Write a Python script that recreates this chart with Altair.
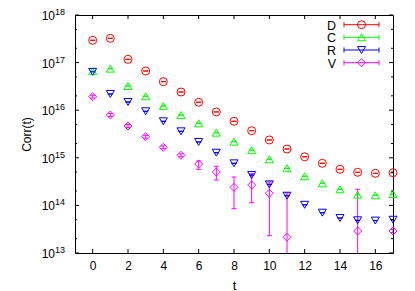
import altair as alt
import pandas as pd

# ---- data ----
t_all = list(range(18))
D_vals = [2.94e17, 3.24e17, 1.17e17, 6.66e16, 3.97e16, 2.41e16, 1.47e16, 9.2e15, 5.85e15,
          3.71e15, 2.37e15, 1.53e15, 1.05e15, 7.66e14, 5.73e14, 4.96e14, 4.72e14, 4.86e14]
C_vals = [6.6e16, 7.45e16, 3.22e16, 1.96e16, 1.23e16, 7.93e15, 5.31e15, 3.37e15, 2.18e15,
          1.44e15, 9.3e14, 6.02e14, 4.09e14, 2.91e14, 2.18e14, 1.68e14, 1.63e14, 1.73e14]
R_vals = [6.4e16, 2.19e16, 1.49e16, 9.5e15, 5.85e15, 3.6e15, 2.15e15, 1.28e15, 7.66e14,
          4.35e14, 2.77e14, 1.6e14, 1.03e14, 7.03e13, 5.44e13, 4.87e13, 4.8e13, 5.0e13]
V_t = [0, 1, 2, 3, 4, 5, 6, 7, 8, 9, 10, 11, 15, 17]
V_vals = [1.92e16, 7.93e15, 4.66e15, 2.77e15, 1.66e15, 1.13e15, 7.41e14, 5.03e14, 2.4e14,
          2.68e14, 1.8e14, 2.14e13, 2.9e13, 2.9e13]
V_lo = [1.8e16, 7.4e15, 4.35e15, 2.58e15, 1.55e15, 1.05e15, 5.73e14, 3.42e14, 8.53e13,
        1.14e14, 2.31e13, 1e12, 1e12, 2.7e13]
V_hi = [2.05e16, 8.5e15, 5.0e15, 2.97e15, 1.78e15, 1.21e15, 8.57e14, 6.63e14, 3.95e14,
        4.64e14, 3.1e14, 1.82e14, 2.18e14, 3.1e13]

series_names = ["D", "C", "R", "V"]
series_colors = ["#ff0000", "#00ff00", "#0000ff", "#ff00ff"]
series_shapes = ["circle", "triangle-up", "triangle-down", "diamond"]

x_tick_vals = [0, 2, 4, 6, 8, 10, 12, 14, 16]
y_exponents = [13, 14, 15, 16, 17, 18]

# ---- tables ----
rows = []
for name, vals in [("D", D_vals), ("C", C_vals), ("R", R_vals)]:
    for t, v in zip(t_all, vals):
        rows.append({"series": name, "t": t, "val": v, "lo": v, "hi": v})
for t, v, lo, hi in zip(V_t, V_vals, V_lo, V_hi):
    rows.append({"series": "V", "t": t, "val": v, "lo": lo, "hi": hi})
df = pd.DataFrame(rows)

W, H = 318, 238
FONT = "Liberation Sans"

xs = alt.Scale(domain=[-1, 17], nice=False, zero=False)
ys = alt.Scale(type="log", domain=[1e13, 1e18], nice=False)
color = alt.Color("series:N", scale=alt.Scale(domain=series_names, range=series_colors), legend=None)
shape = alt.Shape("series:N", scale=alt.Scale(domain=series_names, range=series_shapes), legend=None)

x_axis = alt.Axis(values=x_tick_vals, title="t", ticks=False, tickSize=0, domain=False, grid=False,
                  labelOverlap=False, labelPadding=7, labelFontSize=12, labelFont=FONT, labelColor="#000",
                  titleFont=FONT, titleFontSize=13, titleFontWeight="normal", titleColor="#000",
                  titleY=36, titleBaseline="alphabetic")
y_axis = alt.Axis(labels=False, ticks=False, tickSize=0, domain=False, grid=False, title="Corr(t)",
                  titleFont=FONT, titleFontSize=12, titleFontWeight="normal", titleColor="#000",
                  titleX=-49, titleY=H / 2, titleAngle=270, titleAlign="center", titleBaseline="middle")

base = alt.Chart(df)
err = base.mark_rule(strokeWidth=1, clip=True).encode(
    x=alt.X("t:Q", scale=xs, axis=x_axis),
    y=alt.Y("lo:Q", scale=ys, axis=y_axis),
    y2="hi:Q",
    color=color,
)
cap_lo = base.mark_tick(orient="horizontal", size=5, thickness=1, clip=True, opacity=1).encode(
    x=alt.X("t:Q", scale=xs, axis=x_axis), y=alt.Y("lo:Q", scale=ys, axis=y_axis), color=color)
cap_hi = base.mark_tick(orient="horizontal", size=5, thickness=1, clip=True, opacity=1).encode(
    x=alt.X("t:Q", scale=xs, axis=x_axis), y=alt.Y("hi:Q", scale=ys, axis=y_axis), color=color)
pts = base.mark_point(filled=False, size=64, strokeWidth=1, opacity=1).encode(
    x=alt.X("t:Q", scale=xs, axis=x_axis), y=alt.Y("val:Q", scale=ys, axis=y_axis), color=color, shape=shape)

layers = [err, cap_lo, cap_hi, pts]

# ---- inward ticks ----
xt = alt.Chart(pd.DataFrame({"t": x_tick_vals}))
layers.append(xt.mark_rule(color="#000", strokeWidth=1).encode(
    x=alt.X("t:Q", scale=xs, axis=x_axis), y=alt.value(H), y2=alt.value(H - 4)))
layers.append(xt.mark_rule(color="#000", strokeWidth=1).encode(
    x=alt.X("t:Q", scale=xs, axis=x_axis), y=alt.value(0), y2=alt.value(4)))

major = [10.0 ** e for e in y_exponents]
minor = [m * 10.0 ** e for e in y_exponents[:-1] for m in (2, 5)]
for vals, ln in [(major, 4), (minor, 2)]:
    yt = alt.Chart(pd.DataFrame({"v": vals}))
    layers.append(yt.mark_rule(color="#000", strokeWidth=1).encode(
        y=alt.Y("v:Q", scale=ys, axis=y_axis), x=alt.value(0), x2=alt.value(ln)))
    layers.append(yt.mark_rule(color="#000", strokeWidth=1).encode(
        y=alt.Y("v:Q", scale=ys, axis=y_axis), x=alt.value(W), x2=alt.value(W - ln)))

# ---- y tick labels 10^n ----
ylab_df = pd.DataFrame({"v": major, "base": ["10"] * len(major), "exp": [str(e) for e in y_exponents]})
ylab = alt.Chart(ylab_df)
layers.append(ylab.mark_text(align="right", baseline="alphabetic", font=FONT, fontSize=12, dy=5, color="#000").encode(
    y=alt.Y("v:Q", scale=ys, axis=y_axis), x=alt.value(-20), text="base:N"))
layers.append(ylab.mark_text(align="left", baseline="alphabetic", font=FONT, fontSize=9, dy=0, color="#000").encode(
    y=alt.Y("v:Q", scale=ys, axis=y_axis), x=alt.value(-20), text="exp:N"))

# ---- legend (inside top right) ----
leg_rows = [9.7, 22.3, 35.0, 47.7]
leg = alt.Chart(pd.DataFrame({"series": series_names}))
for name, ly in zip(series_names, leg_rows):
    sub = leg.transform_filter(alt.datum.series == name)
    layers.append(sub.mark_rule(strokeWidth=1).encode(
        x=alt.value(269), x2=alt.value(304), y=alt.value(ly), color=color))
    layers.append(sub.mark_rule(strokeWidth=1).encode(
        x=alt.value(269), y=alt.value(ly - 2.5), y2=alt.value(ly + 2.5), color=color))
    layers.append(sub.mark_rule(strokeWidth=1).encode(
        x=alt.value(304), y=alt.value(ly - 2.5), y2=alt.value(ly + 2.5), color=color))
    layers.append(sub.mark_point(filled=False, size=64, strokeWidth=1, opacity=1).encode(
        x=alt.value(286.5), y=alt.value(ly), color=color, shape=shape))
    layers.append(sub.mark_text(align="right", baseline="middle", font=FONT, fontSize=12.5,
                                color="#000", dy=1).encode(
        x=alt.value(261), y=alt.value(ly), text="series:N"))

chart = alt.layer(*layers).properties(
    width=W, height=H,
    autosize=alt.AutoSizeParams(type="none"),
    padding={"left": 67, "top": 7, "right": 14, "bottom": 38},
    background="#ffffff",
).configure_view(stroke="#000", strokeWidth=1).configure_axisX(
    labelOverlap=False, labelBound=False, labelFlush=False
)

chart.save("out.html", embed_options={"renderer": "svg", "actions": False})
